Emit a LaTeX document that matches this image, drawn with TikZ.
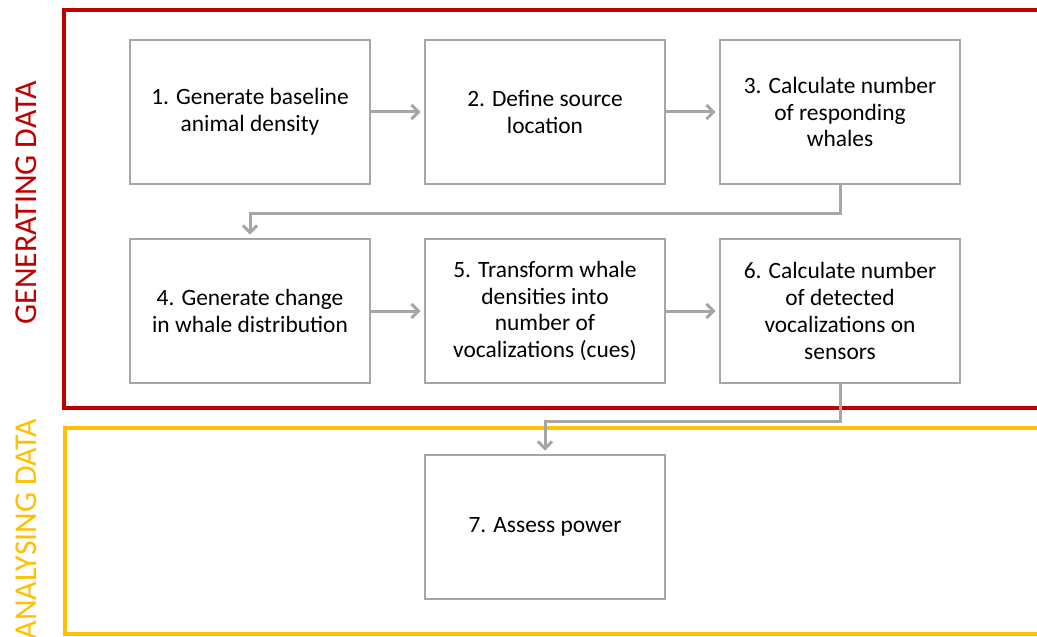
\documentclass[tikz,border=0pt]{standalone}
\usepackage{fontspec}
\setmainfont{Carlito}
\usetikzlibrary{arrows.meta}
\definecolor{gred}{HTML}{C00000}
\definecolor{ayel}{HTML}{FFC000}
\definecolor{bgray}{HTML}{A6A6A6}
\tikzset{
  stepbox/.style={draw=bgray, line width=2.8bp, fill=white, minimum width=240bp, minimum height=144bp, align=center, inner sep=0pt, font=\fontsize{23.5}{27}\selectfont},
  conn/.style={draw=bgray, line width=3bp, -{Straight Barb[length=7bp,width=14bp]}, shorten >=3bp},
  sidelabel/.style={rotate=90, font=\fontsize{32}{36}\selectfont, inner sep=0pt}
}
\begin{document}
\begin{tikzpicture}[x=1bp,y=-1bp]
\useasboundingbox (0,0) rectangle (1037,637);
% frames
\draw[gred, line width=4bp] (1045,10) -- (64,10) -- (64,408) -- (1045,408);
\draw[ayel, line width=4bp] (1045,428) -- (65,428) -- (65,634) -- (1045,634);
\node[sidelabel, text=gred] (gen) at (26,203) {GENERATING DATA};
\node[sidelabel, text=ayel] (ana) at (26,529) {ANALYSING DATA};
% boxes
\node[stepbox] (b1) at (250,112) {1. Generate baseline\\animal density};
\node[stepbox] (b2) at (545,112) {2. Define source\\location};
\node[stepbox] (b3) at (840,112) {3. Calculate number\\of responding\\whales};
\node[stepbox] (b4) at (250,311) {4. Generate change\\in whale distribution};
\node[stepbox] (b5) at (545,311) {5. Transform whale\\densities into\\number of\\vocalizations (cues)};
\node[stepbox] (b6) at (840,311) {6. Calculate number\\of detected\\vocalizations on\\sensors};
\node[stepbox] (b7) at (545,527) {7. Assess power};
% connectors
\draw[conn] (b1) -- (b2);
\draw[conn] (b2) -- (b3);
\draw[conn] (b3.south) -- ++(0,28) -| (b4.north);
\draw[conn] (b4) -- (b5);
\draw[conn] (b5) -- (b6);
\draw[conn] (b6.south) -- ++(0,37) -| (b7.north);
\end{tikzpicture}
\end{document}
